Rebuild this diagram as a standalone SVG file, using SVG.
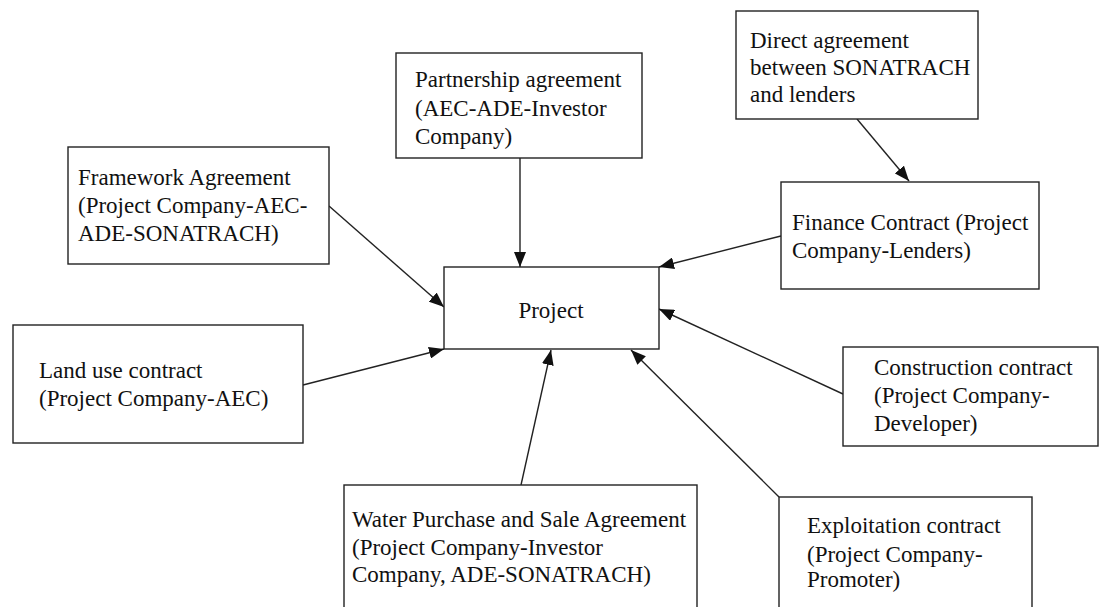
<svg xmlns="http://www.w3.org/2000/svg" width="1099" height="607" viewBox="0 0 1099 607">
  <style>
    .box { fill: #fff; stroke: #222; stroke-width: 1.4; }
    .lbl { font-family: "Liberation Serif", "Times New Roman", serif; font-size: 23px; fill: #111; }
    .edge { stroke: #222; stroke-width: 1.4; fill: none; marker-end: url(#arrow); }
  </style>
  <defs>
    <marker id="arrow" markerUnits="userSpaceOnUse" markerWidth="15" markerHeight="12" refX="15" refY="6" orient="auto">
      <path d="M0,0 L15,6 L0,12 z" fill="#111"/>
    </marker>
  </defs>
  <rect width="1099" height="607" fill="#fff"/>

  <g id="connectors">
    <line class="edge" x1="520" y1="158" x2="520" y2="267"/>
    <line class="edge" x1="857" y1="119" x2="909" y2="181"/>
    <line class="edge" x1="781" y1="236" x2="659" y2="267"/>
    <line class="edge" x1="329" y1="206" x2="444" y2="307"/>
    <line class="edge" x1="303" y1="385" x2="444" y2="349"/>
    <line class="edge" x1="521" y1="485" x2="551" y2="350"/>
    <line class="edge" x1="779" y1="497" x2="631" y2="350"/>
    <line class="edge" x1="843" y1="394" x2="659" y2="309"/>
  </g>

  <g id="project">
    <rect class="box" x="444" y="267" width="215" height="82"/>
    <text class="lbl" x="551" y="318" text-anchor="middle">Project</text>
  </g>

  <g id="partnership">
    <rect class="box" x="396" y="53" width="246" height="105"/>
    <text class="lbl" x="415" y="87">Partnership agreement</text>
    <text class="lbl" x="415" y="116">(AEC-ADE-Investor</text>
    <text class="lbl" x="415" y="144">Company)</text>
  </g>

  <g id="direct">
    <rect class="box" x="736" y="11" width="242" height="108"/>
    <text class="lbl" x="750" y="48">Direct agreement</text>
    <text class="lbl" x="750" y="75">between SONATRACH</text>
    <text class="lbl" x="750" y="102">and lenders</text>
  </g>

  <g id="finance">
    <rect class="box" x="781" y="182" width="258" height="107"/>
    <text class="lbl" x="792" y="230">Finance Contract (Project</text>
    <text class="lbl" x="792" y="258">Company-Lenders)</text>
  </g>

  <g id="framework">
    <rect class="box" x="68" y="147" width="261" height="117"/>
    <text class="lbl" x="78" y="185">Framework Agreement</text>
    <text class="lbl" x="78" y="213">(Project Company-AEC-</text>
    <text class="lbl" x="78" y="241">ADE-SONATRACH)</text>
  </g>

  <g id="land-use">
    <rect class="box" x="13" y="325" width="290" height="118"/>
    <text class="lbl" x="39" y="378">Land use contract</text>
    <text class="lbl" x="39" y="406">(Project Company-AEC)</text>
  </g>

  <g id="construction">
    <rect class="box" x="843" y="347" width="255" height="99"/>
    <text class="lbl" x="874" y="375">Construction contract</text>
    <text class="lbl" x="874" y="403">(Project Company-</text>
    <text class="lbl" x="874" y="431">Developer)</text>
  </g>

  <g id="water">
    <rect class="box" x="344" y="485" width="353" height="130"/>
    <text class="lbl" x="352" y="527">Water Purchase and Sale Agreement</text>
    <text class="lbl" x="352" y="555">(Project Company-Investor</text>
    <text class="lbl" x="352" y="582">Company, ADE-SONATRACH)</text>
  </g>

  <g id="exploitation">
    <rect class="box" x="779" y="497" width="253" height="118"/>
    <text class="lbl" x="807" y="533">Exploitation contract</text>
    <text class="lbl" x="807" y="562">(Project Company-</text>
    <text class="lbl" x="807" y="587">Promoter)</text>
  </g>
</svg>
